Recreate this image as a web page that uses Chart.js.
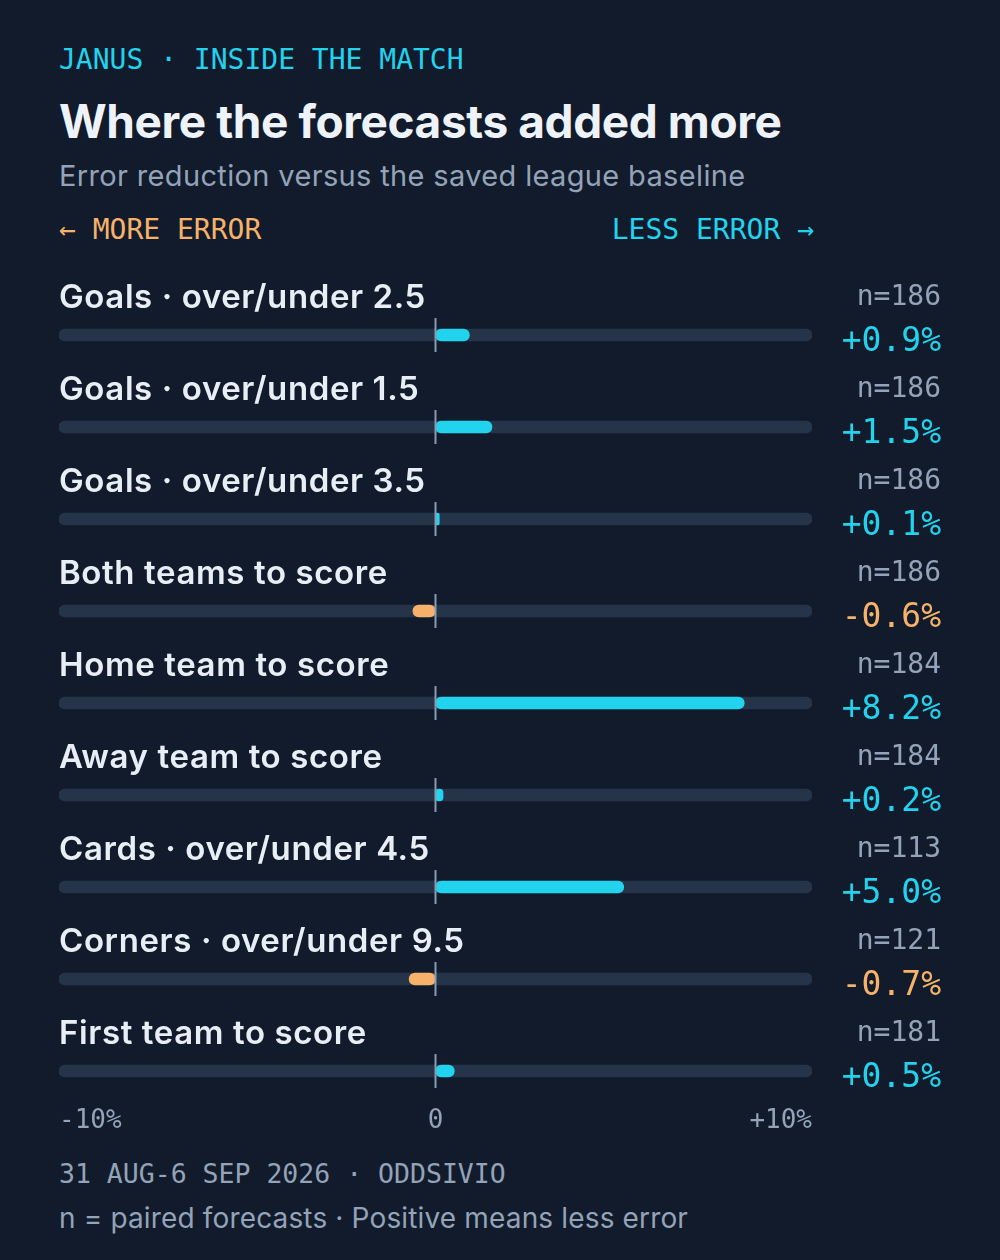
<!DOCTYPE html>
<html>
<head>
<meta charset="utf-8">
<script src="https://cdn.jsdelivr.net/npm/chart.js@4"></script>
<style>
  html, body { margin: 0; padding: 0; background: #111b2b; }
  #wrap { position: relative; width: 1000px; height: 1260px; background: #111b2b; overflow: hidden; }
  .t { position: absolute; left: 59px; white-space: nowrap; }
  .mono { font-family: "DejaVu Sans Mono", monospace; }
  .sans { font-family: Inter, "Noto Sans", sans-serif; }
  #kicker { top: 42px; line-height: 36px; font-size: 28px; color: #22d3ee; }
  #title { top: 95px; line-height: 52px; font-size: 46px; font-weight: 700; color: #eef3fa; letter-spacing: -0.4px; }
  #subtitle { top: 158px; line-height: 36px; font-size: 29px; color: #94a3b8; letter-spacing: 0.35px; }
  #more { top: 212px; line-height: 36px; font-size: 28px; color: #f6b26b; }
  #less { top: 212px; line-height: 36px; font-size: 28px; color: #22d3ee; left: auto; right: 186px; }
  #chartBox { position: absolute; left: 0; top: 250px; width: 1000px; height: 900px; }
  #date { top: 1156px; line-height: 36px; font-size: 26.5px; color: #94a3b8; }
  #note { top: 1200px; line-height: 36px; font-size: 28px; color: #94a3b8; letter-spacing: 0.15px; }
</style>
</head>
<body>
<div id="wrap">
  <div id="kicker" class="t mono">JANUS · INSIDE THE MATCH</div>
  <div id="title" class="t sans">Where the forecasts added more</div>
  <div id="subtitle" class="t sans">Error reduction versus the saved league baseline</div>
  <div id="more" class="t mono">← MORE ERROR</div>
  <div id="less" class="t mono">LESS ERROR →</div>
  <div id="chartBox"><canvas id="chart" width="1000" height="900"></canvas></div>
  <div id="date" class="t mono">31 AUG-6 SEP 2026 · ODDSIVIO</div>
  <div id="note" class="t sans">n = paired forecasts · Positive means less error</div>
</div>
<script>
// Daten
const markets = [
  'Goals · over/under 2.5',
  'Goals · over/under 1.5',
  'Goals · over/under 3.5',
  'Both teams to score',
  'Home team to score',
  'Away team to score',
  'Cards · over/under 4.5',
  'Corners · over/under 9.5',
  'First team to score'
];
const reduction = [0.9, 1.5, 0.1, -0.6, 8.2, 0.2, 5.0, -0.7, 0.5]; // in %
const pairs = [186, 186, 186, 186, 184, 184, 113, 121, 181];
const axisTicks = [-10, 0, 10];
const axisLabels = ['-10%', '0', '+10%'];

const CYAN = '#22d3ee';
const ORANGE = '#f6b26b';
const TRACK = '#263449';
const MUTED = '#94a3b8';

function fmtPct(v) {
  return (v >= 0 ? '+' : '') + v.toFixed(1) + '%';
}

// Beschriftungen, Nulllinie und Achsenticks
const rowDecor = {
  id: 'rowDecor',
  afterDatasetsDraw(chart) {
    const { ctx, scales: { x, y } } = chart;
    const x0 = x.getPixelForValue(0);
    ctx.save();
    markets.forEach((name, i) => {
      const yc = y.getPixelForValue(i);

      // Nulllinie
      ctx.strokeStyle = '#8a9ab0';
      ctx.lineWidth = 2;
      ctx.beginPath();
      ctx.moveTo(x0, yc - 17);
      ctx.lineTo(x0, yc + 17);
      ctx.stroke();

      // Marktname
      ctx.textBaseline = 'middle';
      ctx.textAlign = 'left';
      ctx.fillStyle = '#e8eef6';
      ctx.font = '600 33px Inter, "Noto Sans", sans-serif';
      ctx.letterSpacing = '0.6px';
      ctx.fillText(name, x.left, yc - 37);
      ctx.letterSpacing = '0px';

      // n
      ctx.textAlign = 'right';
      ctx.fillStyle = MUTED;
      ctx.font = '28px "DejaVu Sans Mono", monospace';
      ctx.fillText('n=' + pairs[i], 941, yc - 37);

      // Wert
      ctx.fillStyle = reduction[i] >= 0 ? CYAN : ORANGE;
      ctx.font = '33px "DejaVu Sans Mono", monospace';
      ctx.fillText(fmtPct(reduction[i]), 941, yc + 7);
    });

    // Achsenbeschriftung
    const yt = y.getPixelForValue(markets.length - 1) + 50;
    ctx.fillStyle = MUTED;
    ctx.font = '26px "DejaVu Sans Mono", monospace';
    axisTicks.forEach((t, k) => {
      ctx.textAlign = k === 0 ? 'left' : (k === axisTicks.length - 1 ? 'right' : 'center');
      ctx.fillText(axisLabels[k], x.getPixelForValue(t), yt);
    });
    ctx.restore();
  }
};

new Chart(document.getElementById('chart').getContext('2d'), {
  type: 'bar',
  data: {
    labels: markets,
    datasets: [
      {
        label: 'track',
        data: markets.map(() => [axisTicks[0], axisTicks[axisTicks.length - 1]]),
        backgroundColor: TRACK,
        barThickness: 12,
        borderRadius: 6,
        borderSkipped: false,
        grouped: false,
        order: 2
      },
      {
        label: 'Error reduction',
        data: reduction.map(v => [0, v]),
        backgroundColor: reduction.map(v => v >= 0 ? CYAN : ORANGE),
        barThickness: 12,
        borderRadius: 6,
        borderSkipped: false,
        grouped: false,
        order: 1
      }
    ]
  },
  options: {
    indexAxis: 'y',
    responsive: false,
    animation: false,
    devicePixelRatio: 1,
    layout: { padding: { left: 59, right: 188, top: 39, bottom: 33 } },
    plugins: { legend: { display: false }, tooltip: { enabled: false } },
    scales: {
      x: { min: -10, max: 10, display: false },
      y: { display: false }
    }
  },
  plugins: [rowDecor]
});
</script>
</body>
</html>
